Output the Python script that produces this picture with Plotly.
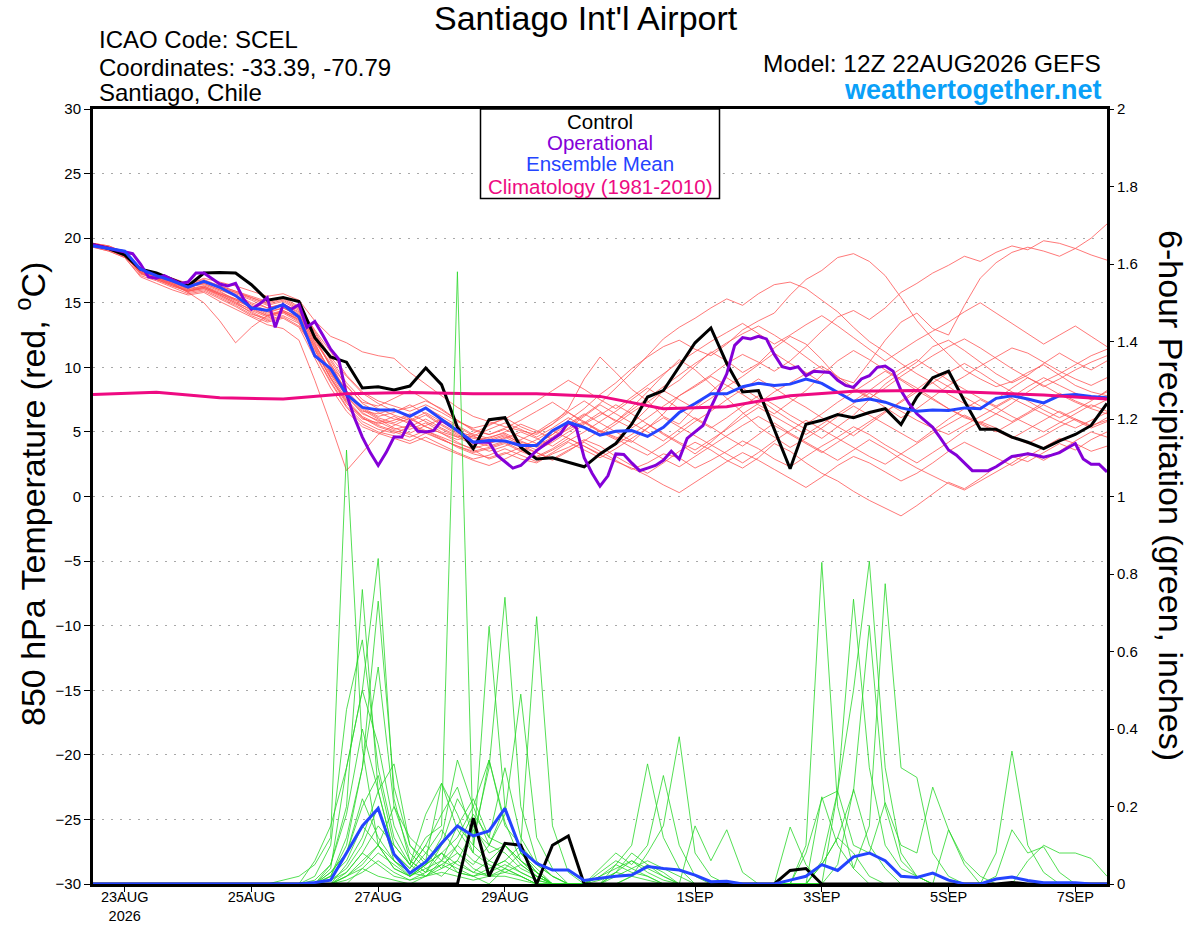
import plotly.graph_objects as go
import pandas as pd

# ---------------- data ----------------
RUN_START = "2026-08-22 12:00"
times6 = pd.date_range(RUN_START, periods=65, freq="6h")
times3 = pd.date_range(RUN_START, periods=129, freq="3h")
clim_times = pd.date_range(RUN_START, periods=17, freq="24h")

tick_dates = ["2026-08-23", "2026-08-25", "2026-08-27", "2026-08-29",
              "2026-09-01", "2026-09-03", "2026-09-05", "2026-09-07"]
tick_labels = ["23AUG<br>2026", "25AUG", "27AUG", "29AUG",
               "1SEP", "3SEP", "5SEP", "7SEP"]
temp_ticks = [-30, -25, -20, -15, -10, -5, 0, 5, 10, 15, 20, 25, 30]
precip_ticks = [0, 0.2, 0.4, 0.6, 0.8, 1, 1.2, 1.4, 1.6, 1.8, 2]
precip_tick_labels = ["0", "0.2", "0.4", "0.6", "0.8", "1", "1.2", "1.4", "1.6", "1.8", "2"]

control_temp = [19.5, 19.2, 18.7, 17.6, 17.3, 16.8, 16.3, 17.3, 17.35, 17.3,
                16.4, 15.2, 15.4, 15.1, 12.3, 10.8, 10.4, 8.4, 8.5, 8.25,
                8.55, 9.95, 8.66, 5.36, 3.7, 5.95, 6.1, 3.8, 2.9, 3.0,
                2.65, 2.3, 3.3, 4.1, 5.6, 7.7, 8.2, 10.0, 11.9, 13.05,
                10.3, 8.1, 8.2, 5.2, 2.15, 5.6, 5.9, 6.35, 6.1, 6.5,
                6.8, 5.57, 7.7, 9.2, 9.7, 7.4, 5.2, 5.2, 4.6, 4.2,
                3.7, 4.3, 4.8, 5.5, 7.2]

operational_temp = [19.5, 19.35, 19.2, 19.1, 18.95, 18.8, 18.0, 17.0, 16.9, 17.1,
                    16.8, 16.5, 16.6, 17.3, 17.3, 16.9, 16.45, 16.3, 16.5, 15.3,
                    14.5, 14.9, 15.4, 13.1, 14.85, 14.5, 14.85, 13.1, 13.55, 12.5,
                    11.4, 10.65, 7.9, 6.1, 4.6, 3.4, 2.4, 3.4, 4.6, 4.6,
                    5.8, 5.05, 5.0, 5.1, 5.9, 5.5, 5.1, 4.6, 4.2, 4.2,
                    4.2, 3.2, 2.7, 2.2, 2.4, 3.0, 3.55, 4.0, 4.45, 4.85,
                    5.75, 5.35, 3.0, 1.8, 0.8, 1.6, 3.3, 3.25, 2.6, 2.0,
                    2.2, 2.4, 2.8, 3.5, 2.9, 4.5, 5.0, 5.5, 6.9, 8.2,
                    9.5, 11.7, 12.3, 12.2, 12.4, 12.2, 11.0, 10.05, 9.9, 10.05,
                    9.35, 9.7, 9.65, 9.6, 9.0, 8.6, 8.45, 9.1, 9.35, 10.0,
                    10.1, 9.7, 8.2, 7.2, 6.4, 5.9, 5.36, 4.5, 3.6, 3.2,
                    2.6, 2.0, 2.0, 2.0, 2.3, 2.7, 3.1, 3.2, 3.3, 3.2,
                    3.05, 3.2, 3.4, 3.75, 4.1, 2.9, 2.5, 2.5, 1.9]

ens_mean_temp = [19.4, 19.2, 19.0, 17.6, 17.1, 16.7, 16.2, 16.65, 16.2, 15.55,
                 14.6, 14.4, 14.85, 13.9, 10.9, 9.9, 7.9, 6.9, 6.7, 6.7,
                 6.2, 6.85, 6.0, 5.1, 4.2, 4.33, 4.3, 3.95, 3.95, 5.1,
                 5.75, 5.35, 4.75, 5.05, 5.1, 4.65, 5.36, 6.5, 7.2, 7.95,
                 7.95, 8.5, 8.76, 8.6, 8.7, 9.1, 8.76, 8.07, 7.37, 7.55,
                 7.3, 6.86, 6.6, 6.7, 6.65, 6.86, 6.8, 7.6, 7.8, 7.55,
                 7.25, 7.8, 7.9, 7.75, 7.65]

climatology_temp = [7.9, 8.07, 7.65, 7.55, 7.95, 8.05, 7.95, 7.95, 7.75,
                    6.8, 6.95, 7.8, 8.15, 8.2, 8.05, 7.85, 7.55]

member_temps = [
    [19.5,19.3,18.8,17.4,17.0,16.6,16.2,16.5,16.0,15.6,15.0,14.6,14.9,
     14.2,12.0,10.2,8.6,7.2,6.5,6.0,5.8,6.3,5.5,4.8,4.2,4.6,
     4.9,4.3,3.8,4.5,5.2,5.8,5.0,4.4,5.6,6.8,8.2,9.0,10.1,
     11.2,10.5,9.6,10.3,11.5,12.4,11.8,10.6,9.2,8.8,10.4,12.1,13.5,
     14.2,13.0,12.5,14.8,16.9,18.1,18.9,19.3,19.0,18.6,19.2,20.0,21.1],
    [19.6,19.4,18.9,17.6,17.2,16.9,16.5,16.8,16.3,15.9,15.4,15.0,15.3,
     14.6,12.8,10.8,9.3,8.0,7.2,6.6,6.9,7.4,6.8,5.9,5.1,4.8,
     5.2,4.6,4.1,4.8,5.9,6.8,7.9,8.8,9.9,10.8,11.6,12.1,11.4,
     10.9,11.8,12.9,13.6,14.2,15.6,16.8,17.5,18.5,18.8,18.2,17.1,15.4,
     13.6,12.2,11.0,9.8,9.1,8.5,8.9,9.6,10.2,9.4,8.6,8.1,7.8],
    [19.4,19.1,18.6,17.3,16.8,16.3,15.9,16.1,15.6,15.0,14.2,13.6,13.9,
     13.2,11.3,9.2,7.4,6.1,5.4,5.0,4.6,5.1,4.5,3.8,3.3,3.0,
     3.4,2.9,2.6,3.3,3.8,4.4,3.9,3.1,2.4,1.8,2.6,3.5,4.2,
     3.6,2.8,2.2,3.0,4.1,3.5,2.6,1.8,1.2,0.4,-0.3,-0.9,-1.5,
     -0.7,0.2,1.1,0.6,1.4,2.3,3.1,2.7,3.4,4.1,3.6,4.4,5.0],
    [19.5,19.2,18.7,17.5,17.1,16.7,16.4,16.9,16.6,16.3,15.9,15.5,15.7,
     15.2,13.6,12.4,11.9,11.2,10.9,10.7,9.6,8.7,7.8,6.9,6.2,5.8,
     5.4,5.1,4.8,5.6,6.5,5.8,5.1,4.6,4.2,5.3,6.4,7.8,8.5,
     9.3,8.6,7.9,7.1,6.4,7.3,8.2,9.4,10.5,11.3,10.6,9.8,9.1,
     8.4,7.6,6.8,6.1,5.7,6.4,7.2,8.1,8.9,9.5,10.2,10.9,11.4],
    [19.3,19.0,18.5,17.0,16.5,16.0,15.6,15.8,15.1,14.5,13.9,13.3,13.0,
     12.1,9.0,5.6,2.0,3.4,4.8,5.5,6.1,5.4,4.9,4.2,3.6,2.9,
     3.3,3.8,3.4,2.9,3.6,4.2,3.5,2.8,2.1,2.6,3.3,3.0,2.2,
     2.8,3.5,4.3,3.7,2.9,2.3,3.1,3.9,4.6,5.4,4.8,4.0,3.3,
     2.6,3.4,4.2,5.1,5.8,5.3,4.6,4.1,4.7,5.4,6.0,5.5,5.9],
    [19.5,19.3,18.9,17.7,17.3,16.8,16.3,16.4,15.9,15.2,14.7,14.3,14.6,
     14.0,11.9,9.5,7.8,6.4,5.9,5.6,5.2,5.7,5.0,4.6,4.9,5.5,
     6.1,5.4,4.9,5.6,6.8,9.1,10.8,9.6,8.3,7.4,6.2,5.6,6.9,
     8.1,9.2,8.4,7.6,6.7,5.9,5.2,4.5,5.4,6.3,7.5,8.7,9.6,
     10.4,11.6,12.1,11.3,10.4,9.5,8.8,9.4,10.3,11.1,10.4,9.8,10.5],
    [19.6,19.3,18.8,17.5,17.1,16.6,16.1,16.6,16.2,15.8,15.3,14.8,15.1,
     14.4,12.2,10.1,8.2,6.9,6.2,6.5,7.1,6.4,5.6,4.9,4.5,4.3,
     4.7,4.2,3.9,4.6,5.5,6.3,7.2,8.4,9.6,10.9,12.2,13.1,13.8,
     14.6,15.3,14.8,15.7,16.4,16.6,16.1,15.2,14.3,13.1,12.0,11.2,10.3,
     9.5,8.8,7.9,7.2,6.8,7.5,8.4,9.2,8.6,7.9,7.3,6.8,6.4],
    [19.4,19.2,18.7,17.2,16.9,16.4,15.8,16.0,15.4,14.8,14.1,13.8,14.2,
     13.5,11.0,8.8,6.9,5.6,5.0,4.7,4.3,4.9,4.4,3.9,3.5,3.8,
     4.2,3.6,3.1,3.7,4.5,3.9,3.2,2.7,2.2,1.6,0.9,0.3,1.1,
     1.9,2.7,3.4,2.8,2.1,1.4,0.7,1.5,2.4,3.1,2.6,1.9,1.2,
     1.8,2.6,3.5,4.2,3.6,3.0,2.4,3.1,3.8,4.5,4.1,3.5,3.9],
    [19.5,19.2,18.8,17.4,16.9,16.5,15.8,15.0,13.6,11.9,13.1,14.0,14.4,
     13.8,11.6,9.4,7.5,6.2,5.6,5.9,6.4,5.8,5.2,4.6,4.0,3.5,
     3.9,4.4,5.0,5.8,6.6,7.4,6.6,5.8,6.9,8.1,9.4,10.6,9.8,
     8.7,7.6,6.5,5.4,4.6,3.8,4.5,5.3,6.2,7.0,6.3,5.6,4.9,
     4.2,5.1,6.0,6.8,7.5,6.9,6.2,5.6,5.0,5.7,6.4,7.1,6.6],
    [19.5,19.3,18.8,17.6,17.1,16.8,16.3,16.7,16.1,15.7,15.2,14.6,14.9,
     14.3,12.5,10.6,8.8,7.5,6.8,6.3,5.9,6.5,5.8,5.1,4.6,4.4,
     4.8,4.1,3.6,4.2,5.0,5.7,6.5,5.9,5.3,6.1,7.0,7.8,8.6,
     9.4,10.3,11.0,10.4,9.7,10.5,11.6,12.8,13.9,14.4,13.7,14.6,15.8,
     16.5,17.3,17.9,18.6,18.2,18.9,19.4,19.1,19.8,19.6,19.2,18.7,18.3],
    [19.4,19.1,18.6,17.3,16.9,16.5,16.1,16.3,15.8,15.3,14.8,14.2,14.6,
     14.0,12.1,10.3,8.0,6.7,6.0,5.3,4.9,5.5,6.0,5.4,4.7,4.1,
     4.5,5.0,4.5,3.9,4.7,5.6,6.3,7.1,6.4,5.6,4.8,4.1,3.3,
     4.2,5.3,6.4,7.2,8.1,8.8,9.5,10.1,9.3,8.4,7.7,6.9,6.1,
     6.8,7.7,8.6,9.3,10.1,10.8,11.5,11.1,10.4,9.7,9.1,8.6,9.2],
    [19.5,19.2,18.7,17.4,17.0,16.6,16.0,16.3,15.7,15.1,14.4,13.9,14.3,
     13.7,11.4,9.1,7.2,6.0,5.7,6.2,5.6,5.1,4.6,4.1,3.7,4.1,
     4.6,4.0,3.4,2.8,3.5,4.3,5.1,4.5,3.8,3.2,4.0,4.9,5.8,
     6.6,7.5,8.3,9.1,8.4,7.6,6.9,6.1,5.4,4.7,5.6,6.5,7.4,
     8.3,9.2,8.5,7.7,7.0,6.4,5.8,6.5,7.3,8.0,7.4,6.9,7.5],
    [19.6,19.4,18.9,17.6,17.2,16.7,16.2,16.5,16.0,15.5,14.9,14.4,14.8,
     14.1,12.3,10.0,8.1,6.8,6.1,5.7,6.3,6.9,6.2,5.5,4.8,4.5,
     5.0,5.6,5.1,4.4,5.3,6.2,7.1,6.4,5.7,5.0,4.3,5.2,6.1,
     5.4,4.6,3.9,4.8,5.7,4.9,4.2,3.5,2.8,3.6,4.4,3.7,2.9,
     2.2,1.6,1.0,0.5,1.2,1.9,2.6,3.4,2.8,3.5,4.3,5.0,4.6],
    [19.5,19.2,18.7,17.5,17.0,16.5,15.9,16.2,15.7,15.3,14.7,14.1,14.4,
     13.9,11.8,9.7,7.9,6.6,6.4,6.8,6.0,5.4,4.9,4.4,4.7,5.2,
     5.7,5.2,4.6,5.3,6.1,5.4,4.8,5.6,6.5,7.3,8.2,7.5,6.8,
     7.6,8.5,9.3,10.2,11.1,10.3,9.6,8.8,8.1,7.4,8.2,9.1,9.9,
     10.6,9.8,9.0,8.3,7.6,7.0,7.7,8.5,9.2,8.6,8.0,7.5,8.1],
    [19.3,19.0,18.5,17.1,16.7,16.2,15.7,15.9,15.3,14.7,14.0,13.5,13.8,
     13.1,10.7,8.4,6.6,5.4,4.9,4.5,4.1,4.6,4.0,3.4,2.9,3.2,
     3.7,3.2,2.7,3.4,4.2,3.6,3.0,3.7,4.5,5.3,6.1,5.4,4.7,
     4.0,3.3,2.6,3.4,4.3,5.1,5.9,5.2,4.5,3.8,3.1,2.5,3.3,
     4.1,4.9,5.6,6.3,5.7,5.1,4.5,5.2,5.9,6.6,6.0,5.4,6.1],
    [19.5,19.3,18.8,17.5,17.1,16.7,16.3,16.6,16.2,15.8,15.4,14.9,15.2,
     14.5,12.7,10.5,8.5,7.3,7.0,7.6,8.2,7.5,6.7,5.9,5.2,4.8,
     5.3,5.9,6.6,7.3,6.5,5.7,5.0,5.8,6.7,7.6,8.5,9.4,10.3,
     11.1,11.9,12.6,13.2,12.5,11.7,10.8,9.9,9.1,8.3,7.6,8.4,9.3,
     10.1,10.9,11.6,12.2,11.5,10.7,9.9,9.2,8.5,9.1,9.8,10.4,10.9],
    [19.4,19.2,18.7,17.3,16.8,16.3,15.9,16.1,15.5,14.9,14.3,13.7,14.0,
     13.4,11.1,8.9,7.0,5.8,5.2,4.9,5.4,6.0,5.3,4.7,4.2,3.9,
     4.3,3.8,4.4,5.1,4.5,3.9,3.3,4.0,4.8,5.6,4.9,4.2,3.6,
     4.4,5.2,6.1,6.9,6.2,5.5,4.8,5.6,6.4,7.2,8.0,7.3,6.6,
     5.9,5.3,4.8,5.5,6.2,6.9,7.6,7.0,6.4,5.8,5.3,5.9,6.5],
    [19.6,19.3,18.9,17.6,17.2,16.8,16.4,16.7,16.3,15.9,15.5,15.1,15.4,
     14.7,12.9,11.2,9.4,8.1,7.4,7.0,6.6,7.1,6.5,5.8,5.3,5.6,
     6.0,6.7,7.4,8.2,9.0,8.3,7.5,6.8,7.7,8.6,9.5,10.4,11.2,
     12.0,12.7,13.4,12.6,11.8,12.5,13.3,14.0,13.2,12.3,11.4,10.5,11.3,
     12.1,12.8,13.5,14.3,15.0,14.2,13.4,12.6,11.8,12.5,13.2,12.4,11.6],
    [19.5,19.2,18.7,17.4,16.9,16.4,15.9,16.2,15.6,15.0,14.5,14.0,14.3,
     13.6,11.5,9.2,7.3,6.1,5.5,5.1,4.8,4.3,3.8,3.3,2.8,2.4,
     2.9,3.5,4.1,4.8,5.6,6.4,5.7,5.0,4.3,3.6,2.9,2.3,3.1,
     3.9,4.7,5.5,6.2,5.5,4.8,4.1,3.4,4.2,5.0,5.8,6.6,7.3,
     8.1,8.8,9.6,10.3,9.6,8.8,8.1,7.4,6.7,6.1,6.7,7.4,8.2],
    [19.4,19.1,18.6,17.3,16.8,16.4,16.0,16.2,15.7,15.2,14.6,14.0,14.3,
     13.7,11.7,9.6,7.7,6.5,5.8,5.2,5.5,5.0,4.4,3.9,3.4,3.7,
     4.1,3.5,3.0,3.6,4.3,5.0,5.8,6.6,7.5,8.4,7.6,6.8,6.0,
     5.3,6.1,7.0,7.8,7.1,6.3,5.6,6.4,7.3,8.1,8.9,9.7,9.0,
     8.2,7.5,6.8,6.2,5.6,5.0,5.7,6.4,7.1,6.5,5.9,5.3,5.8],
]

ens_mean_precip = [0, 0, 0, 0, 0, 0, 0, 0, 0, 0,
                   0, 0, 0, 0, 0.004, 0.01, 0.08, 0.15, 0.195, 0.077,
                   0.028, 0.057, 0.105, 0.15, 0.124, 0.137, 0.195, 0.088, 0.053, 0.036,
                   0.036, 0.009, 0.015, 0.02, 0.023, 0.045, 0.04, 0.036, 0.023, 0.006,
                   0.007, 0, 0, 0, 0.01, 0.02, 0.05, 0.035, 0.07, 0.08,
                   0.06, 0.02, 0.017, 0.028, 0.01, 0, 0, 0.013, 0.018, 0.009,
                   0.003, 0.003, 0.003, 0, 0]

control_precip = [0, 0, 0, 0, 0, 0, 0, 0, 0, 0,
                  0, 0, 0, 0, 0, 0, 0, 0, 0, 0,
                  0, 0, 0, 0, 0.17, 0.02, 0.105, 0.1, 0, 0.1,
                  0.124, 0, 0, 0, 0, 0, 0, 0, 0, 0,
                  0, 0, 0, 0, 0.035, 0.04, 0, 0, 0, 0,
                  0, 0, 0, 0, 0, 0, 0, 0, 0.004, 0,
                  0, 0, 0, 0, 0]

member_precips = [
    [0,0,0,0,0,0,0,0,0,0,0,0,0.01,
     0.02,0.05,0.12,1.12,0.35,0.10,0.04,0.02,0.05,0.08,0.03,0.02,0,
     0.04,0.02,0,0,0,0,0.02,0.04,0.06,0.03,0.01,0,0,
     0,0,0,0,0,0,0,0,0,0,0,0,0,
     0,0,0,0,0,0,0,0,0,0,0,0,0],
    [0,0,0,0,0,0,0,0,0,0,0,0,0,
     0,0,0.03,0.08,0.20,0.28,0.10,0.05,0.12,0.15,1.58,0.10,0.06,
     0.04,0.08,0.03,0,0,0,0,0,0.02,0.05,0.03,0,0,
     0,0,0,0,0,0,0,0,0,0,0,0,0,
     0,0,0,0,0,0,0,0,0,0,0,0,0],
    [0,0,0,0,0,0,0,0,0,0,0,0,0,
     0,0.06,0.15,0.30,0.50,0.84,0.22,0.06,0.03,0.10,0.22,0.15,0.08,
     0.10,0.05,0.02,0,0,0,0.03,0.06,0.04,0.02,0,0,0,
     0,0,0,0,0,0,0,0.05,0.12,0.08,0.02,0,0,
     0,0,0,0,0,0,0,0,0,0,0,0,0],
    [0,0,0,0,0,0,0,0,0,0,0,0,0,
     0,0,0.05,0.20,0.76,0.24,0.08,0.04,0.10,0.18,0.25,0.12,0.30,
     0.74,0.20,0.06,0.02,0,0,0,0.03,0.08,0.05,0.02,0,0,
     0,0,0,0,0,0,0,0,0,0,0,0,0,
     0,0,0,0,0,0,0,0,0,0,0,0,0],
    [0,0,0,0,0,0,0,0,0,0,0,0,0,
     0,0.02,0.10,0.45,0.63,0.30,0.12,0.05,0.18,0.26,0.14,0.08,0.665,
     0.20,0.08,0.03,0,0,0,0,0,0,0,0,0,0,
     0,0,0,0,0,0,0,0.06,0.24,0.50,0.833,0.30,0.08,
     0.02,0,0,0,0,0,0,0,0,0,0,0,0],
    [0,0,0,0,0,0,0,0,0,0,0,0,0,
     0,0,0.02,0.12,0.30,0.56,0.20,0.08,0.04,0.02,0.06,0.14,0.10,
     0.18,0.49,0.12,0.04,0,0,0,0.05,0.10,0.31,0.12,0.04,0,
     0,0,0,0,0,0,0,0,0,0,0,0,0,
     0,0,0,0,0,0,0,0,0,0,0,0,0],
    [0,0,0,0,0,0,0,0,0,0,0,0,0,
     0,0,0.04,0.30,0.50,0.36,0.15,0.06,0.03,0.08,0.12,0.20,0.32,
     0.15,0.10,0.69,0.15,0.03,0,0,0,0,0,0,0,0,
     0,0,0,0,0,0,0.10,0.83,0.20,0.04,0,0,0,
     0,0,0,0,0,0,0,0,0,0,0,0,0],
    [0,0,0,0,0,0,0,0,0,0,0,0,0,
     0,0,0.02,0.10,0.30,0.73,0.25,0.10,0.05,0.10,0.15,0.22,0.12,
     0.10,0.06,0.03,0,0,0,0,0,0.02,0.08,0.15,0.38,0.08,
     0.02,0,0,0,0,0,0,0,0,0,0,0,0,
     0,0,0,0,0,0,0,0,0,0,0,0,0],
    [0,0,0,0,0,0,0,0,0,0,0,0,0,
     0,0.01,0.05,0.18,0.40,0.24,0.31,0.10,0.06,0.26,0.18,0.08,0.05,
     0.03,0.02,0,0,0,0,0.04,0.08,0.05,0.10,0.28,0.10,0.02,
     0,0,0,0,0,0,0,0,0,0,0,0,0,
     0,0,0,0,0,0.08,0.343,0.10,0.03,0,0,0,0],
    [0,0,0,0,0,0,0,0,0,0,0,0,0,
     0,0,0.03,0.08,0.22,0.12,0.06,0.02,0.05,0.12,0.32,0.20,0.10,
     0.08,0.04,0.02,0,0,0,0,0,0,0,0,0,0,
     0,0,0,0,0,0,0.08,0.22,0.24,0.735,0.30,0.10,0.04,
     0.02,0,0,0,0,0,0,0,0,0,0,0,0],
    [0,0,0,0,0,0,0,0,0,0,0,0,0,
     0,0,0,0.05,0.12,0.24,0.08,0.04,0.10,0.06,0.15,0.10,0.32,
     0.16,0.06,0.02,0,0,0,0,0,0,0,0,0,0,
     0,0,0,0,0,0,0,0.225,0.10,0.04,0.15,0.775,0.30,
     0.275,0.08,0.02,0,0,0,0,0,0,0,0,0,0],
    [0,0,0,0,0,0,0,0,0,0,0,0,0,
     0,0,0.02,0.06,0.15,0.10,0.20,0.12,0.08,0.04,0.10,0.18,0.12,
     0.30,0.12,0.05,0.02,0,0,0,0,0,0,0,0,0,
     0,0,0,0,0,0,0,0.05,0.12,0.24,0.667,0.20,0.06,
     0.02,0,0,0,0,0,0,0,0,0,0,0,0],
    [0,0,0,0,0,0,0,0,0,0,0,0,0,
     0,0,0.01,0.04,0.10,0.20,0.06,0.03,0.08,0.14,0.08,0.05,0.10,
     0.20,0.08,0.04,0,0,0,0,0,0,0,0,0,0.15,
     0.06,0.14,0.03,0,0,0.147,0.05,0,0,0,0,0,0,
     0,0,0,0,0,0,0,0,0,0,0,0,0],
    [0,0,0,0,0,0,0,0,0,0,0,0,0,
     0,0,0,0.03,0.08,0.15,0.10,0.05,0.02,0.06,0.10,0.06,0.04,
     0.06,0.10,0.05,0.02,0,0,0,0.03,0.06,0.04,0.02,0,0,
     0,0,0,0,0,0,0,0,0.24,0.10,0.08,0.21,0.10,
     0.08,0.25,0.14,0.05,0,0,0,0,0,0,0,0,0],
    [0,0,0,0,0,0,0,0,0,0,0,0,0,
     0,0,0,0.02,0.06,0.10,0.04,0.02,0.05,0.08,0.05,0.03,0.06,
     0.10,0.06,0.03,0,0,0,0,0,0,0,0,0,0,
     0,0,0,0,0,0,0,0,0.05,0.245,0.10,0.04,0,
     0,0,0,0,0,0.02,0.14,0.08,0.096,0.03,0,0,0],
    [0,0,0,0,0,0,0,0,0,0,0,0,0,
     0,0,0,0,0.04,0.08,0.05,0.02,0.04,0.06,0.04,0.02,0.03,
     0.05,0.03,0.01,0,0,0,0,0,0,0,0,0,0,
     0,0,0,0,0,0,0,0,0,0,0,0,0,
     0,0,0,0,0,0,0,0.06,0.10,0.08,0.08,0.066,0.02],
    [0,0,0,0,0,0,0,0,0,0,0,0,0,
     0,0,0,0.02,0.05,0.10,0.06,0.03,0.02,0.05,0.08,0.04,0.02,
     0.04,0.02,0,0,0,0,0.02,0.05,0.03,0.02,0,0,0,
     0,0,0,0,0,0,0,0,0,0,0,0,0,
     0,0,0.14,0.06,0.02,0,0,0,0,0,0,0,0],
    [0,0,0,0,0,0,0,0,0,0,0,0,0,
     0,0,0.01,0.03,0.08,0.05,0.02,0.01,0.03,0.05,0.03,0.02,0.04,
     0.06,0.03,0.01,0,0,0,0.01,0.03,0.02,0.01,0,0,0,
     0,0,0,0,0,0,0,0,0,0,0,0,0,
     0,0,0,0,0,0,0,0,0,0,0,0,0],
    [0,0,0,0,0,0,0,0,0,0,0,0,0,
     0,0,0,0.01,0.03,0.06,0.03,0.01,0.02,0.04,0.06,0.03,0.02,
     0.03,0.05,0.02,0,0,0,0,0.02,0.04,0.06,0.04,0.02,0,
     0,0,0,0,0,0,0,0,0,0,0,0,0,
     0,0,0,0,0,0,0,0,0,0,0,0,0],
    [0,0,0,0,0,0,0,0,0,0,0,0,0,
     0,0,0,0.02,0.04,0.02,0.01,0,0.02,0.03,0.02,0.01,0.02,
     0.02,0.01,0,0,0,0,0,0,0,0,0,0,0,
     0,0,0,0,0,0,0,0,0,0,0,0,0,
     0,0,0,0,0,0,0,0,0,0,0,0,0],
]

for k, m in enumerate(member_temps):
    assert len(m) == 65, ("temp", k, len(m))
for k, m in enumerate(member_precips):
    assert len(m) == 65, ("precip", k, len(m))
assert len(operational_temp) == 129, len(operational_temp)

# ---------------- styles ----------------
FONT = "Liberation Sans, Arial, Helvetica, sans-serif"
RED = "rgb(255,85,85)"
GREEN = "rgb(40,215,40)"
BLACK = "#000000"
PURPLE = "#8400d8"
BLUE = "#2444ff"
MAGENTA = "#ee0a82"
SITE_BLUE = "#0aa0f8"

W, H = 1200, 927
L, R, T, B = 93, 93, 109, 43
PW = W - L - R
PH = H - T - B


def px(xp):
    return (xp - L) / PW


def py(yp):
    return (H - B - yp) / PH


fig = go.Figure()

for m in member_temps:
    fig.add_trace(go.Scatter(x=times6, y=m, mode="lines",
                             line=dict(color=RED, width=0.8),
                             hoverinfo="skip", showlegend=False))

fig.add_trace(go.Scatter(x=times6, y=control_temp, mode="lines",
                         line=dict(color=BLACK, width=3), showlegend=False))
fig.add_trace(go.Scatter(x=times3, y=operational_temp, mode="lines",
                         line=dict(color=PURPLE, width=3), showlegend=False))
fig.add_trace(go.Scatter(x=times6, y=ens_mean_temp, mode="lines",
                         line=dict(color=BLUE, width=3), showlegend=False))
fig.add_trace(go.Scatter(x=clim_times, y=climatology_temp, mode="lines",
                         line=dict(color=MAGENTA, width=3), showlegend=False))

for m in member_precips:
    fig.add_trace(go.Scatter(x=times6, y=m, mode="lines", yaxis="y2",
                             line=dict(color=GREEN, width=0.8),
                             hoverinfo="skip", showlegend=False))
fig.add_trace(go.Scatter(x=times6, y=control_precip, mode="lines", yaxis="y2",
                         line=dict(color=BLACK, width=3), showlegend=False))
fig.add_trace(go.Scatter(x=times6, y=ens_mean_precip, mode="lines", yaxis="y2",
                         line=dict(color=BLUE, width=3), showlegend=False))

annotations = [
    dict(text="Santiago Int'l Airport", x=px(586), y=py(18), font=dict(size=34)),
    dict(text="ICAO Code: SCEL", x=px(97), y=py(40), xanchor="left", font=dict(size=24)),
    dict(text="Coordinates: -33.39, -70.79", x=px(97), y=py(67), xanchor="left", font=dict(size=24)),
    dict(text="Santiago, Chile", x=px(97), y=py(93), xanchor="left", font=dict(size=24)),
    dict(text="Model: 12Z 22AUG2026 GEFS", x=px(1103), y=py(64), xanchor="right", font=dict(size=24.5)),
    dict(text="<b>weathertogether.net</b>", x=px(1104), y=py(90), xanchor="right",
         font=dict(size=27, color=SITE_BLUE)),
    dict(text="Control", x=px(600), y=py(121), font=dict(size=20.5, color=BLACK)),
    dict(text="Operational", x=px(600), y=py(142.5), font=dict(size=20.5, color=PURPLE)),
    dict(text="Ensemble Mean", x=px(600), y=py(164), font=dict(size=20.5, color=BLUE)),
    dict(text="Climatology (1981-2010)", x=px(600), y=py(186), font=dict(size=20.5, color=MAGENTA)),
    dict(text="850 hPa Temperature (red, <sup>o</sup>C)", x=px(30), y=py(494),
         textangle=-90, font=dict(size=34)),
    dict(text="6-hour Precipitation (green, inches)", x=px(1171), y=py(495),
         textangle=90, font=dict(size=34)),
]
for a in annotations:
    a.setdefault("xanchor", "center")
    a.update(xref="paper", yref="paper", yanchor="middle", showarrow=False)
    a["font"].setdefault("color", BLACK)
    a["font"]["family"] = FONT

fig.update_layout(
    width=W, height=H, autosize=False,
    margin=dict(l=L, r=R, t=T, b=B, pad=0, autoexpand=False),
    paper_bgcolor="white", plot_bgcolor="white",
    font=dict(family=FONT, color="black", size=15),
    showlegend=False,
    annotations=annotations,
    shapes=[dict(type="rect", xref="paper", yref="paper",
                 x0=px(480.5), x1=px(719.5), y0=py(198.5), y1=py(109),
                 line=dict(color="black", width=1.5), fillcolor="white", layer="above")],
    xaxis=dict(type="date", range=[times6[0], times6[-1]], automargin=False,
               tickmode="array", tickvals=tick_dates, ticktext=tick_labels,
               ticks="outside", ticklen=5, tickwidth=1, tickcolor="black",
               ticklabelstandoff=-7,
               showgrid=False, zeroline=False,
               showline=True, linecolor="black", linewidth=3, mirror=True,
               tickfont=dict(size=14.5)),
    yaxis=dict(range=[-30, 30], tickmode="array", tickvals=temp_ticks, automargin=False,
               ticks="outside", ticklen=6, tickwidth=1, tickcolor="black",
               showgrid=True, gridcolor="#a8a8a8", gridwidth=1, griddash="2px,7px",
               zeroline=False, showline=True, linecolor="black", linewidth=3, mirror=True,
               tickfont=dict(size=15)),
    yaxis2=dict(range=[0, 2], overlaying="y", side="right", automargin=False,
                tickmode="array", tickvals=precip_ticks, ticktext=precip_tick_labels,
                ticks="outside", ticklen=6, tickwidth=1, tickcolor="black",
                showgrid=False, zeroline=False, showline=False,
                tickfont=dict(size=15)),
)

fig.write_html("out.html", config={"displayModeBar": False},
               post_script="document.body.style.margin='0px';document.body.style.overflow='hidden';")
